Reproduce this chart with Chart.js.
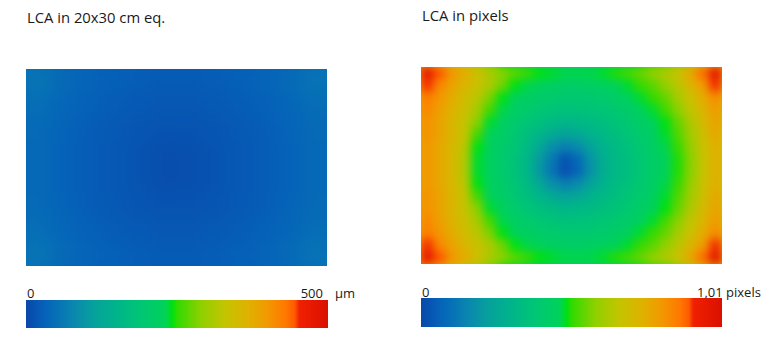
<!DOCTYPE html>
<html>
<head>
<meta charset="utf-8">
<script src="https://cdn.jsdelivr.net/npm/chart.js@4.4.1/dist/chart.umd.min.js"></script>
<style>
  body { margin: 0; background: #fff; width: 770px; height: 343px; position: relative; overflow: hidden;
         font-family: "Open Sans", sans-serif; color: #1a1a1a; }
  .box { position: absolute; }
  .txt { position: absolute; line-height: 1; white-space: nowrap; }
</style>
</head>
<body>
<div class="txt" id="titleMicrons" style="left:27px;top:10px;font-size:14.8px"></div>
<div class="txt" id="titlePixels" style="left:422px;top:8px;font-size:14.8px"></div>

<div class="box" style="left:26px;top:69px;width:301px;height:197px"><canvas id="mapMicrons"></canvas></div>
<div class="box" style="left:421px;top:67px;width:301px;height:197px"><canvas id="mapPixels"></canvas></div>

<div class="txt" id="lowMicrons" style="left:27px;top:287px;font-size:13px"></div>
<div class="txt" id="highMicrons" style="right:447px;top:287px;font-size:13px"></div>
<div class="txt" id="unitMicrons" style="left:335px;top:287px;font-size:13px"></div>
<div class="txt" id="lowPixels" style="left:422px;top:286px;font-size:13px"></div>
<div class="txt" id="highPixels" style="left:697px;top:286px;font-size:13px"></div>

<div class="box" style="left:26px;top:300px;width:302px;height:28px"><canvas id="barMicrons"></canvas></div>
<div class="box" style="left:421px;top:298px;width:301px;height:29px"><canvas id="barPixels"></canvas></div>

<script>
const titles = ['LCA in 20x30 cm eq.', 'LCA in pixels'];
const micronTicks = ['0', '500'];
const pixelTicks = ['0', '1,01'];
const units = ['µm', 'pixels'];
const micronMax = 500;
const pixelMax = 1.01;

// LCA over the frame in µm, rows from top to bottom
const lcaMicrons = [
  [56, 42, 33, 28, 25, 23, 23, 25, 28, 33, 42, 55],
  [47, 35, 28, 24, 20, 18, 18, 20, 24, 28, 35, 46],
  [42, 32, 25, 20, 16, 14, 14, 16, 20, 25, 32, 42],
  [40, 30, 24, 19, 14,  8,  9, 14, 19, 24, 30, 40],
  [40, 30, 24, 19, 14,  8,  9, 14, 19, 24, 30, 40],
  [42, 32, 25, 20, 16, 14, 14, 16, 20, 25, 32, 42],
  [47, 35, 28, 24, 20, 18, 18, 20, 24, 28, 35, 46],
  [56, 42, 33, 28, 25, 23, 23, 25, 28, 33, 42, 55]
];

// LCA over the frame in pixels, rows from top to bottom
const lcaPixels = [
  [0.97, 0.90, 0.81, 0.76, 0.69, 0.63, 0.58, 0.54, 0.51, 0.49, 0.48, 0.47, 0.47, 0.47, 0.48, 0.50, 0.52, 0.55, 0.59, 0.63, 0.68, 0.77, 0.88, 0.97],
  [0.91, 0.84, 0.78, 0.73, 0.68, 0.63, 0.56, 0.49, 0.47, 0.46, 0.44, 0.43, 0.43, 0.44, 0.45, 0.46, 0.48, 0.51, 0.54, 0.59, 0.65, 0.73, 0.80, 0.91],
  [0.86, 0.81, 0.76, 0.70, 0.65, 0.57, 0.49, 0.46, 0.44, 0.42, 0.41, 0.40, 0.40, 0.40, 0.41, 0.43, 0.45, 0.48, 0.51, 0.55, 0.62, 0.68, 0.76, 0.83],
  [0.84, 0.79, 0.74, 0.69, 0.62, 0.52, 0.47, 0.44, 0.41, 0.39, 0.37, 0.36, 0.36, 0.37, 0.38, 0.40, 0.42, 0.45, 0.48, 0.52, 0.58, 0.66, 0.73, 0.80],
  [0.82, 0.78, 0.73, 0.67, 0.58, 0.48, 0.45, 0.41, 0.38, 0.35, 0.33, 0.31, 0.32, 0.33, 0.35, 0.37, 0.40, 0.43, 0.46, 0.49, 0.55, 0.63, 0.71, 0.78],
  [0.82, 0.78, 0.73, 0.67, 0.52, 0.46, 0.43, 0.39, 0.35, 0.31, 0.26, 0.23, 0.25, 0.29, 0.32, 0.35, 0.38, 0.41, 0.44, 0.48, 0.53, 0.61, 0.69, 0.77],
  [0.81, 0.77, 0.72, 0.65, 0.49, 0.45, 0.42, 0.38, 0.33, 0.25, 0.18, 0.14, 0.17, 0.23, 0.29, 0.33, 0.36, 0.40, 0.43, 0.47, 0.51, 0.59, 0.68, 0.75],
  [0.81, 0.77, 0.72, 0.64, 0.48, 0.45, 0.41, 0.37, 0.31, 0.21, 0.12, 0.03, 0.08, 0.19, 0.27, 0.32, 0.35, 0.39, 0.43, 0.46, 0.50, 0.58, 0.67, 0.75],
  [0.81, 0.77, 0.72, 0.64, 0.48, 0.45, 0.41, 0.37, 0.31, 0.20, 0.11, 0.02, 0.07, 0.18, 0.27, 0.32, 0.35, 0.39, 0.43, 0.46, 0.50, 0.58, 0.67, 0.75],
  [0.81, 0.77, 0.72, 0.65, 0.49, 0.45, 0.42, 0.38, 0.33, 0.25, 0.18, 0.14, 0.17, 0.23, 0.29, 0.33, 0.36, 0.40, 0.43, 0.47, 0.51, 0.59, 0.68, 0.75],
  [0.82, 0.78, 0.73, 0.67, 0.52, 0.46, 0.43, 0.39, 0.35, 0.31, 0.26, 0.23, 0.25, 0.29, 0.32, 0.35, 0.38, 0.41, 0.44, 0.48, 0.53, 0.61, 0.69, 0.77],
  [0.82, 0.78, 0.73, 0.67, 0.58, 0.48, 0.45, 0.41, 0.38, 0.35, 0.33, 0.31, 0.32, 0.33, 0.35, 0.37, 0.40, 0.43, 0.46, 0.49, 0.55, 0.63, 0.71, 0.78],
  [0.84, 0.79, 0.74, 0.69, 0.62, 0.52, 0.47, 0.44, 0.41, 0.39, 0.37, 0.36, 0.36, 0.37, 0.38, 0.40, 0.42, 0.45, 0.48, 0.52, 0.58, 0.66, 0.73, 0.80],
  [0.86, 0.81, 0.76, 0.70, 0.65, 0.57, 0.49, 0.46, 0.44, 0.42, 0.41, 0.40, 0.40, 0.40, 0.41, 0.43, 0.45, 0.48, 0.51, 0.55, 0.62, 0.68, 0.76, 0.83],
  [0.91, 0.84, 0.78, 0.73, 0.68, 0.63, 0.56, 0.49, 0.47, 0.46, 0.44, 0.43, 0.43, 0.44, 0.45, 0.46, 0.48, 0.51, 0.54, 0.59, 0.65, 0.73, 0.80, 0.91],
  [0.97, 0.90, 0.81, 0.76, 0.69, 0.63, 0.58, 0.54, 0.51, 0.49, 0.48, 0.47, 0.47, 0.47, 0.48, 0.50, 0.52, 0.55, 0.59, 0.63, 0.68, 0.77, 0.88, 0.97]
];

// blue -> teal -> green -> yellow -> orange -> red
const colourStops = [
  [0.00, '#0A48A8'], [0.03, '#0754B2'], [0.06, '#0562B8'], [0.10, '#0670B6'],
  [0.16, '#0A88AE'], [0.22, '#06A09C'], [0.30, '#00B48A'], [0.38, '#00C674'],
  [0.46, '#00D25A'], [0.485, '#00E012'], [0.50, '#30DA00'], [0.58, '#90D000'],
  [0.66, '#C4C400'], [0.74, '#E0B000'], [0.80, '#F29800'], [0.86, '#FF7800'],
  [0.89, '#FF5A00'], [0.905, '#F02000'], [1.00, '#DA1000']
];

const hexRgb = h => [1, 3, 5].map(i => parseInt(h.slice(i, i + 2), 16));

function colourAt(t) {
  t = Math.max(0, Math.min(1, t));
  for (let i = 1; i < colourStops.length; i++) {
    const [p1, c1] = colourStops[i];
    if (t <= p1) {
      const [p0, c0] = colourStops[i - 1];
      const f = (t - p0) / (p1 - p0);
      const a = hexRgb(c0), b = hexRgb(c1);
      const rgb = a.map((v, k) => Math.round(v + (b[k] - v) * f));
      return `rgb(${rgb.join(',')})`;
    }
  }
  return colourStops[colourStops.length - 1][1];
}

// softens the cell edges so the field reads as a continuous surface
const smoothCells = {
  id: 'smoothCells',
  afterDatasetsDraw(chart, args, opts) {
    const { ctx, chartArea: a, canvas } = chart;
    const w = Math.round(a.right - a.left), h = Math.round(a.bottom - a.top);
    const pad = 24;
    const off = document.createElement('canvas');
    off.width = w + pad * 2;
    off.height = h + pad * 2;
    const o = off.getContext('2d');
    o.drawImage(canvas, a.left, a.top, w, h, 0, 0, off.width, off.height);
    o.drawImage(canvas, a.left, a.top, w, h, pad, pad, w, h);
    ctx.save();
    ctx.beginPath();
    ctx.rect(a.left, a.top, w, h);
    ctx.clip();
    ctx.filter = `blur(${opts.radius}px)`;
    ctx.drawImage(off, a.left - pad, a.top - pad);
    ctx.restore();
  }
};

function heatmap(id, grid, max, radius) {
  const rows = grid.length;
  const labels = grid[0].map((_, i) => i);
  // one stacked dataset per row, bottom row first
  const datasets = grid.slice().reverse().map(row => ({
    data: row.map(() => 1),
    backgroundColor: row.map(v => colourAt(v / max)),
    borderWidth: 0,
    barPercentage: 1,
    categoryPercentage: 1
  }));
  return new Chart(document.getElementById(id), {
    type: 'bar',
    data: { labels, datasets },
    options: {
      responsive: true,
      maintainAspectRatio: false,
      animation: false,
      layout: { padding: 0 },
      plugins: {
        legend: { display: false },
        tooltip: { enabled: false },
        smoothCells: { radius }
      },
      scales: {
        x: { stacked: true, display: false },
        y: { stacked: true, display: false, min: 0, max: rows }
      }
    },
    plugins: [smoothCells]
  });
}

function barGradient(chart) {
  const { ctx, chartArea, scales } = chart;
  if (!chartArea) return null;
  const x0 = scales.x.getPixelForValue(scales.x.min);
  const x1 = scales.x.getPixelForValue(scales.x.max);
  const g = ctx.createLinearGradient(x0, 0, x1, 0);
  colourStops.forEach(([p, c]) => g.addColorStop(p, c));
  return g;
}

function colourBar(id, max) {
  return new Chart(document.getElementById(id), {
    type: 'bar',
    data: {
      labels: [''],
      datasets: [{
        data: [[0, max]],
        backgroundColor: c => barGradient(c.chart),
        borderWidth: 0,
        barPercentage: 1,
        categoryPercentage: 1
      }]
    },
    options: {
      indexAxis: 'y',
      responsive: true,
      maintainAspectRatio: false,
      animation: false,
      layout: { padding: 0 },
      plugins: { legend: { display: false }, tooltip: { enabled: false } },
      scales: {
        x: { display: false, min: 0, max },
        y: { display: false }
      }
    }
  });
}

document.getElementById('titleMicrons').textContent = titles[0];
document.getElementById('titlePixels').textContent = titles[1];
document.getElementById('lowMicrons').textContent = micronTicks[0];
document.getElementById('highMicrons').textContent = micronTicks[1];
document.getElementById('unitMicrons').textContent = units[0];
document.getElementById('lowPixels').textContent = pixelTicks[0];
document.getElementById('highPixels').textContent = pixelTicks[1] + ' ' + units[1];

heatmap('mapMicrons', lcaMicrons, micronMax, 9);
heatmap('mapPixels', lcaPixels, pixelMax, 4);
colourBar('barMicrons', micronMax);
colourBar('barPixels', pixelMax);
</script>
</body>
</html>
